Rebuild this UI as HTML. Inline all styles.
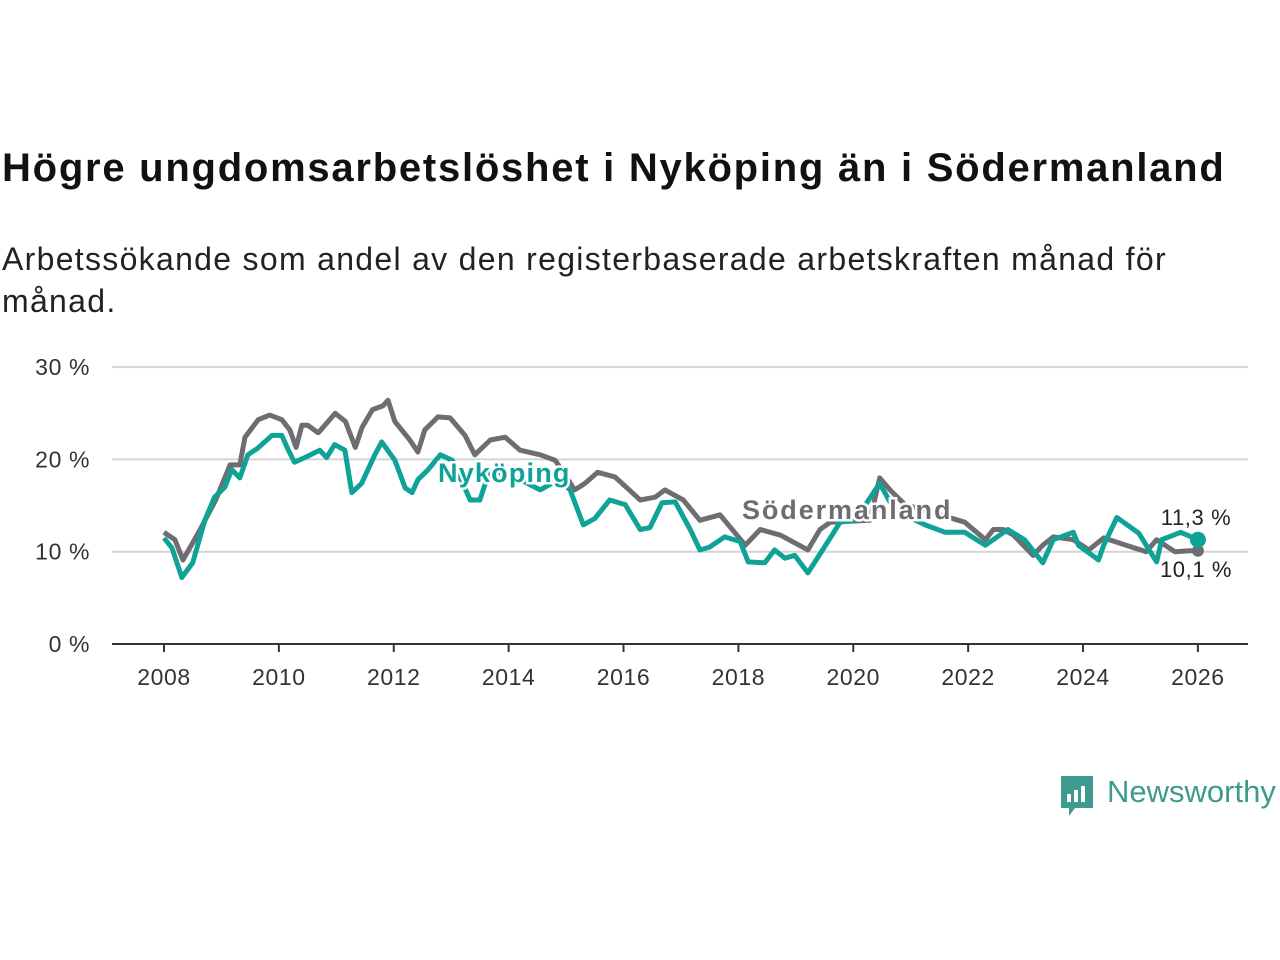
<!DOCTYPE html>
<html><head><meta charset="utf-8"><style>
body{margin:0;background:#fff;width:1280px;height:960px;overflow:hidden;font-family:"Liberation Sans",sans-serif}
h1{position:absolute;left:2px;top:146px;margin:0;font-size:40px;font-weight:bold;color:#111;letter-spacing:1.75px}
p{position:absolute;left:2px;top:238px;margin:0;font-size:32px;line-height:42px;color:#222;width:1200px;letter-spacing:1.3px}
svg{position:absolute;left:0;top:0}
</style></head><body>
<h1>Högre ungdomsarbetslöshet i Nyköping än i Södermanland</h1>
<p>Arbetssökande som andel av den registerbaserade arbetskraften månad för månad.</p>
<svg id="c" width="1280" height="960"></svg>
<script>
const sodYears=[2008,2008.19,2008.33,2008.63,2008.9,2009.15,2009.32,2009.41,2009.64,2009.84,2010.05,2010.19,2010.3,2010.4,2010.5,2010.68,2010.69,2010.98,2011.16,2011.33,2011.45,2011.63,2011.81,2011.9,2012.02,2012.28,2012.42,2012.54,2012.77,2012.98,2013.24,2013.41,2013.68,2013.94,2014.2,2014.55,2014.81,2015.15,2015.33,2015.55,2015.85,2016.29,2016.55,2016.72,2017.04,2017.33,2017.68,2018.12,2018.38,2018.73,2019.21,2019.42,2019.6,2020.29,2020.46,2020.64,2020.9,2021.51,2021.94,2022.3,2022.44,2022.61,2022.79,2022.96,2023.13,2023.3,2023.48,2023.83,2024.1,2024.36,2024.75,2025.1,2025.28,2025.6,2025.86,2026.0];
const sodVals=[12.1,11.3,9.1,12.4,15.6,19.4,19.4,22.4,24.3,24.8,24.3,23.2,21.3,23.7,23.7,22.9,22.9,25.0,24.1,21.3,23.5,25.4,25.8,26.4,24.1,22.1,20.8,23.2,24.6,24.5,22.6,20.5,22.1,22.4,21.0,20.5,19.9,16.7,17.4,18.6,18.1,15.6,15.9,16.7,15.6,13.4,14.0,10.7,12.4,11.8,10.2,12.4,13.2,13.4,18.0,16.7,15.1,14.0,13.2,11.3,12.4,12.4,11.8,10.7,9.6,10.7,11.6,11.3,10.2,11.5,10.7,10.0,11.3,10.0,10.1,10.1];
const nykYears=[2008,2008.14,2008.31,2008.5,2008.71,2008.88,2009.06,2009.18,2009.32,2009.46,2009.63,2009.88,2010.05,2010.15,2010.27,2010.45,2010.71,2010.83,2010.97,2011.15,2011.27,2011.44,2011.67,2011.79,2012.02,2012.2,2012.32,2012.42,2012.6,2012.81,2013.02,2013.33,2013.5,2013.67,2014.2,2014.55,2014.86,2015.07,2015.3,2015.5,2015.76,2016.03,2016.29,2016.46,2016.67,2016.9,2017.16,2017.33,2017.5,2017.76,2018.03,2018.17,2018.46,2018.63,2018.81,2018.98,2019.21,2019.6,2019.77,2020.03,2020.46,2020.72,2021.25,2021.6,2021.94,2022.3,2022.69,2022.98,2023.3,2023.48,2023.83,2023.92,2024.27,2024.36,2024.59,2024.97,2025.28,2025.37,2025.7,2026.0];
const nykVals=[11.5,10.4,7.2,8.8,13.4,15.9,17.0,18.9,18.0,20.5,21.2,22.6,22.6,21.2,19.7,20.2,21.0,20.2,21.6,21.0,16.4,17.4,20.5,21.9,19.9,16.9,16.4,17.8,18.9,20.5,19.9,15.6,15.6,18.9,17.8,16.7,17.8,16.7,12.9,13.6,15.6,15.1,12.4,12.6,15.3,15.4,12.4,10.2,10.5,11.6,11.1,8.9,8.8,10.2,9.3,9.6,7.7,11.5,13.2,13.4,17.4,14.5,12.9,12.1,12.1,10.7,12.4,11.3,8.8,11.3,12.1,10.7,9.1,10.7,13.7,12.0,8.9,11.3,12.1,11.3];
const yTicks=[0,10,20,30];
const xTicks=[2008,2010,2012,2014,2016,2018,2020,2022,2024,2026];
const NS='http://www.w3.org/2000/svg';
const svg=document.getElementById('c');
const X=y=>164+(y-2008)*57.44;
const Y=v=>644-v*9.23;
function mk(t,a){const e=document.createElementNS(NS,t);for(const k in a)e.setAttribute(k,a[k]);svg.appendChild(e);return e;}
yTicks.forEach(t=>{
 if(t>0){const g=mk('line',{x1:112,x2:1248,y1:Y(t),y2:Y(t),stroke:'#d4d4d4','stroke-width':2});
 
 }
 const l=mk('text',{x:90,y:Y(t)+8,'text-anchor':'end','font-size':23,fill:'#333','font-family':'Liberation Sans','letter-spacing':0.6});l.textContent=t+' %';
 
 
});
const ax=mk('line',{x1:112,x2:1248,y1:644,y2:644,stroke:'#333','stroke-width':2});


xTicks.forEach(t=>{
 const tk=mk('line',{x1:X(t),x2:X(t),y1:644,y2:652,stroke:'#333','stroke-width':2});
 
 
 const l=mk('text',{x:X(t),y:685,'text-anchor':'middle','font-size':23,fill:'#333','font-family':'Liberation Sans','letter-spacing':0.6});l.textContent=t;
 
 
});
function line(ys,vs,col,name){
 const d=ys.map((y,i)=>(i?'L':'M')+X(y).toFixed(1)+' '+Y(vs[i]).toFixed(1)).join('');
 const p=mk('path',{d:d,fill:'none',stroke:col,'stroke-width':5,'stroke-linejoin':'round'});
 
 
}
line(sodYears,sodVals,'#6e6d72','line-sodermanland');
line(nykYears,nykVals,'#0fa297','line-nykoping');
function lbl(x,y,txt,col,name,w,size,anchor,ls){
 const t=mk('text',{x:x,y:y,'font-size':size,'font-weight':w,fill:col,'text-anchor':anchor||'start','font-family':'Liberation Sans',stroke:'#fff','stroke-width':5,'paint-order':'stroke','letter-spacing':ls||0});t.textContent=txt;
 
 
}
lbl(438,482,'Nyköping','#0fa297','label-nykoping','bold',27,'start',1.2);
lbl(742,519,'Södermanland','#6e6d72','label-sodermanland','bold',27,'start',1.9);
const dg=mk('circle',{cx:X(2026),cy:Y(10.1),r:6,fill:'#6e6d72'});


const dt=mk('circle',{cx:X(2026),cy:Y(11.3),r:8,fill:'#0fa297'});


lbl(1196,525,'11,3 %','#222','end-value-nykoping','normal',22,'middle',0.6);
lbl(1196,577,'10,1 %','#222','end-value-sodermanland','normal',22,'middle',0.6);
</script>
<div style="position:absolute;left:1059px;top:774px;display:flex;align-items:center">
<svg width="36" height="44" viewBox="0 0 36 44" style="position:static"><path d="M2 2h32v32H16l-6 8v-8H2z" fill="#3d9a8f"/><rect x="8" y="20" width="4" height="8" fill="#fff"/><rect x="15" y="16" width="4" height="12" fill="#fff"/><rect x="22" y="12" width="4" height="16" fill="#fff"/></svg>
<span style="font-size:31px;color:#3d9a8f;margin-left:12px;margin-top:-8px">Newsworthy</span></div>
</body></html>
